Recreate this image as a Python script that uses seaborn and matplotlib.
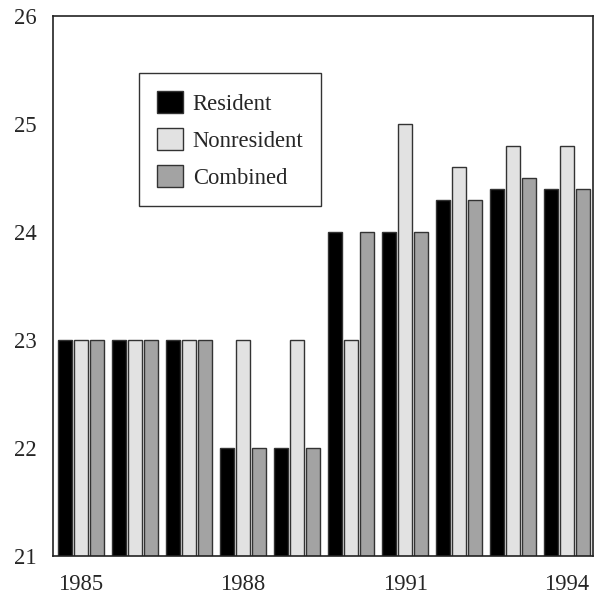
import pandas as pd
import matplotlib
matplotlib.use("Agg")
import matplotlib.pyplot as plt
import seaborn as sns

years = [1985, 1986, 1987, 1988, 1989, 1990, 1991, 1992, 1993, 1994]
resident = [23, 23, 23, 22, 22, 24, 24, 24.3, 24.4, 24.4]
nonresident = [23, 23, 23, 23, 23, 23, 25, 24.6, 24.8, 24.8]
combined = [23, 23, 23, 22, 22, 24, 24, 24.3, 24.5, 24.4]
series = ["Resident", "Nonresident", "Combined"]
colors = ["#000000", "#e2e2e2", "#a3a3a3"]
year_ticks = ["1985", "1988", "1991", "1994"]

df = pd.DataFrame({"year": years * 3,
                   "value": resident + nonresident + combined,
                   "series": [s for s in series for _ in years]})

sns.set_style("white")
plt.rcParams["font.family"] = ["Liberation Serif", "DejaVu Serif"]

fig = plt.figure(figsize=(6.02, 5.96), dpi=100)
ax = fig.add_axes([0.088, 0.067, 0.897, 0.906])

sns.barplot(data=df, x="year", y="value", hue="series", palette=colors,
            width=0.87, gap=0.1, edgecolor="#333333", linewidth=1.0,
            ax=ax, legend=True)

ax.set_ylim(21, 26)
ax.set_yticks([21, 22, 23, 24, 25, 26])
ax.set_xlim(-0.52, 9.48)
ax.set_xticks([0, 3, 6, 9])
ax.set_xticklabels(year_ticks)
ax.tick_params(axis="both", labelsize=16.3, length=0)
ax.tick_params(axis="y", pad=12)
ax.tick_params(axis="x", pad=13)
ax.set_xlabel("")
ax.set_ylabel("")
for sp in ax.spines.values():
    sp.set_color("#222222")
    sp.set_linewidth(1.2)

leg = ax.legend(loc="upper left", bbox_to_anchor=(139 / 602, 1 - 73 / 596),
                bbox_transform=fig.transFigure, fontsize=16.3, frameon=True,
                fancybox=False, edgecolor="black", handlelength=1.15,
                handleheight=1.15, handletextpad=0.45, labelspacing=0.58,
                borderpad=0.78, borderaxespad=0)
leg.get_frame().set_linewidth(1.0)

fig.savefig("out.png", dpi=100)
